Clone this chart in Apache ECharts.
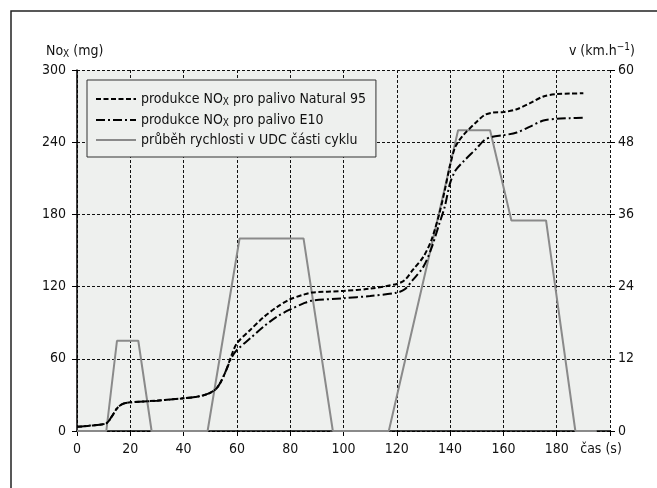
<!DOCTYPE html>
<html>
<head>
<meta charset="utf-8">
<script src="https://cdn.jsdelivr.net/npm/echarts@6/dist/echarts.min.js"></script>
<style>
	html, body { margin: 0; padding: 0; background: #fff; }
	#chart { width: 657px; height: 488px; }
</style>
</head>
<body>
<div id="chart"></div>
<script>
	// speed trace of the UDC part (time s, km/h)
	var speedTime = [0, 11, 15, 23, 28, 49, 61, 85, 96, 117, 143, 155, 163, 176, 187, 195];
	var speedKmh = [0, 0, 15, 15, 0, 0, 32, 32, 0, 0, 50, 50, 35, 35, 0, 0];

	// cumulative NOx (mg)
	var noxTime = [0, 5, 11, 13, 15, 17, 20, 30, 40, 45, 49, 52, 54, 56, 58, 60, 65, 70, 75, 80, 85, 88,
		100, 110, 120, 123, 126, 130, 133, 136, 138, 140, 142, 145, 150, 153, 156, 160, 165, 170, 175, 180, 185, 190];
	var noxN95 = [3.5, 4.5, 6.4, 11.9, 18.8, 22.4, 23.8, 25.2, 27.2, 28.5, 30.8, 34.6, 41, 50.7, 63, 72.9, 84, 94.5, 103, 109.5, 113.3, 115,
		116.4, 118.3, 122.2, 125.5, 133.8, 144.9, 158.8, 181, 200, 221, 236.3, 246, 257, 262.7, 264.6, 265, 267.4, 272.4, 278, 280, 280.4, 280.7];
	var noxE10 = [3.5, 4.5, 6.4, 11.9, 18.8, 22.4, 23.8, 25.2, 27.2, 28.5, 30.8, 34.6, 41, 50.7, 61, 67.3, 77, 86.7, 95, 101, 106, 108.3,
		110.3, 112.2, 115, 117.8, 125.5, 136.6, 151.9, 172.6, 186.5, 206, 216.4, 224, 235, 242, 244.6, 245.8, 248, 253, 258, 259.4, 260, 260.4];

	var leftTicks = [0, 60, 120, 180, 240, 300];
	var rightTicks = [0, 12, 24, 36, 48, 60];

	var nameN95 = 'produkce NOx pro palivo Natural 95';
	var nameE10 = 'produkce NOx pro palivo E10';
	var nameSpeed = 'průběh rychlosti v UDC části cyklu';

	var font = "'Liberation Sans Narrow', 'DejaVu Sans Condensed', 'Arial Narrow', sans-serif";
	var plotBg = '#eef0ee';

	function pairs(xs, ys) {
		var out = [];
		for (var i = 0; i < xs.length; i++) {
			out.push([xs[i], ys[i]]);
		}
		return out;
	}

	var chart = echarts.init(document.getElementById('chart'));

	var gridLine = { color: '#111', width: 1, type: [3, 2] };

	chart.setOption({
		animation: false,
		backgroundColor: '#fff',
		textStyle: { fontFamily: font },
		grid: {
			left: 77, right: 47, top: 70, bottom: 57,
			show: true, backgroundColor: plotBg, borderWidth: 0
		},
		legend: {
			orient: 'vertical',
			left: 87, top: 80,
			padding: [11, 10, 10, 8],
			itemGap: 5,
			itemWidth: 40,
			itemHeight: 14,
			backgroundColor: plotBg,
			borderColor: '#333',
			borderWidth: 1,
			// no marker on the legend lines, only the stroke
			itemStyle: { color: 'rgba(0,0,0,0)', borderWidth: 0, opacity: 0 },
			data: [nameN95, nameE10, nameSpeed],
			formatter: function (name) {
				if (name.indexOf('NOx') >= 0) {
					var parts = name.split('NOx');
					return '{t|' + parts[0] + 'NO}{s|X}{t|' + parts[1] + '}';
				}
				return '{t|' + name + '}';
			},
			textStyle: {
				fontFamily: font,
				rich: {
					t: { fontSize: 14, color: '#111', fontFamily: font, lineHeight: 15 },
					s: { fontSize: 10, color: '#111', fontFamily: font, lineHeight: 9, padding: [6, 0, 0, 0] }
				}
			}
		},
		xAxis: {
			type: 'value',
			min: 0, max: 200, interval: 20,
			axisLine: { lineStyle: { color: '#000', width: 1.5 } },
			axisTick: { show: true, length: 5, lineStyle: { color: '#000' } },
			axisLabel: {
				fontSize: 14, color: '#111', fontFamily: font, margin: 11,
				formatter: function (v) { return v === 200 ? '' : v; }
			},
			splitLine: { show: true, lineStyle: gridLine }
		},
		yAxis: [{
			type: 'value',
			position: 'left',
			min: leftTicks[0], max: leftTicks[leftTicks.length - 1], interval: 60,
			axisLine: { show: true, lineStyle: { color: '#000', width: 1.5 } },
			axisTick: { show: true, length: 5, lineStyle: { color: '#000' } },
			axisLabel: { fontSize: 14, color: '#111', fontFamily: font, margin: 11 },
			splitLine: { show: true, lineStyle: gridLine }
		}, {
			type: 'value',
			position: 'right',
			min: rightTicks[0], max: rightTicks[rightTicks.length - 1], interval: 12,
			axisLine: { show: false },
			axisTick: { show: true, length: 5, lineStyle: { color: '#000' } },
			axisLabel: { fontSize: 14, color: '#111', fontFamily: font, margin: 8 },
			splitLine: { show: false }
		}],
		series: [{
			name: nameSpeed,
			type: 'line',
			yAxisIndex: 1,
			symbol: 'none',
			lineStyle: { color: '#8a8a8a', width: 2 },
			itemStyle: { color: '#8a8a8a' },
			data: pairs(speedTime, speedKmh)
		}, {
			name: nameN95,
			type: 'line',
			smooth: 0.3,
			symbol: 'none',
			lineStyle: { color: '#000', width: 2, type: [5, 2.5] },
			itemStyle: { color: '#000' },
			data: pairs(noxTime, noxN95)
		}, {
			name: nameE10,
			type: 'line',
			smooth: 0.3,
			symbol: 'none',
			lineStyle: { color: '#000', width: 2, type: [9, 3, 2, 3] },
			itemStyle: { color: '#000' },
			data: pairs(noxTime, noxE10)
		}],
		graphic: [{
			// outer frame, only top and left edges are visible
			type: 'rect',
			shape: { x: 11, y: 11, width: 800, height: 600 },
			style: { fill: 'none', stroke: '#222', lineWidth: 1.5 },
			silent: true
		}, {
			type: 'text',
			style: {
				x: 46, y: 51,
				text: '{t|No}{s|X}{t| (mg)}',
				verticalAlign: 'middle',
				rich: {
					t: { fontSize: 14, fill: '#111', fontFamily: font, lineHeight: 16 },
					s: { fontSize: 10, fill: '#111', fontFamily: font, lineHeight: 10, padding: [7, 0, 0, 0] }
				}
			}
		}, {
			type: 'text',
			style: {
				x: 635, y: 51,
				align: 'right',
				text: '{t|v (km.h}{p|\u22121}{t|)}',
				verticalAlign: 'middle',
				rich: {
					t: { fontSize: 14, fill: '#111', fontFamily: font, lineHeight: 16 },
					p: { fontSize: 10, fill: '#111', fontFamily: font, lineHeight: 10, padding: [0, 0, 7, 0] }
				}
			}
		}, {
			type: 'text',
			style: {
				x: 601, y: 449,
				align: 'center',
				verticalAlign: 'middle',
				text: 'čas (s)',
				fontSize: 14,
				fontFamily: font,
				fill: '#111'
			}
		}]
	});
</script>
</body>
</html>
